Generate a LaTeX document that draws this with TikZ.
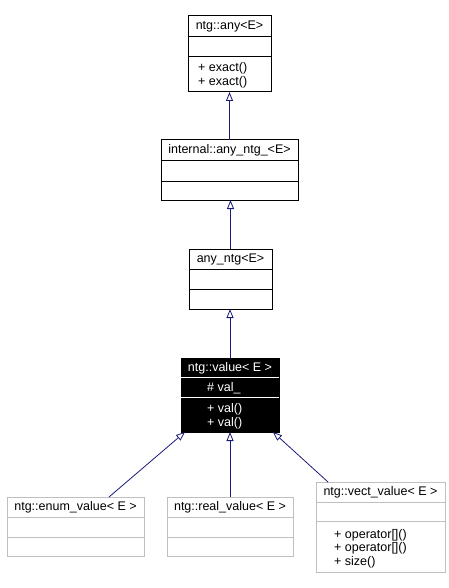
\documentclass[tikz,border=0pt]{standalone}
\usepackage{fontspec}
\setmainfont{Liberation Sans}
\usetikzlibrary{arrows.meta}
\definecolor{edgeblue}{HTML}{1A1A78}
\definecolor{boxgray}{HTML}{BFBFBF}
\tikzset{
  classbox/.style={draw=black, line width=1pt, inner sep=0pt, outer sep=0pt},
  grayclass/.style={classbox, draw=boxgray},
  txt/.style={inner sep=0pt, font=\fontsize{12.5}{14}\selectfont},
  member/.style={txt, anchor=west},
  inherit/.style={draw=edgeblue, line width=0.8pt,
    -{Triangle[open, length=9pt, width=7pt, line width=0.8pt]}}
}
\begin{document}
\begin{tikzpicture}[x=1pt, y=-1pt]
\useasboundingbox (0,0) rectangle (449,588);
% ntg::any<E>
\node[classbox, minimum width=83pt, minimum height=76pt] (any) at (229.5,54) {};
\draw[line width=1pt] (188,37) -- (271,37);
\draw[line width=1pt] (188,57) -- (271,57);
\node[txt] (anyT) at (229.5,26.5) {ntg::any<E>};
\node[member] (anyM1) at (198,68) {+ exact()};
\node[member] (anyM2) at (198,82) {+ exact()};
% internal::any_ntg_<E>
\node[classbox, minimum width=137pt, minimum height=60pt] (internal) at (229.5,170) {};
\draw[line width=1pt] (161,161) -- (298,161);
\draw[line width=1pt] (161,181) -- (298,181);
\node[txt] (internalT) at (229.5,150.5) {internal::any\_ntg\_<E>};
% any_ntg<E>
\node[classbox, minimum width=83pt, minimum height=60pt] (anyntg) at (230.5,279) {};
\draw[line width=1pt] (189,269) -- (272,269);
\draw[line width=1pt] (189,289) -- (272,289);
\node[txt] (anyntgT) at (230.5,259.5) {any\_ntg<E>};
% ntg::value< E >
\node[classbox, fill=black, minimum width=98pt, minimum height=74pt] (value) at (230,395) {};
\draw[white, line width=1pt] (181,377) -- (279,377);
\draw[white, line width=1pt] (181,397) -- (279,397);
\node[txt, text=white] (valueT) at (230,368) {ntg::value< E >};
\node[member, text=white] (valueA) at (207,388) {\# val\_};
\node[member, text=white] (valueM1) at (207,409) {+ val()};
\node[member, text=white] (valueM2) at (207,423) {+ val()};
% ntg::enum_value< E >
\node[grayclass, minimum width=137pt, minimum height=59pt] (enum) at (75.5,526.5) {};
\draw[boxgray, line width=1pt] (7,517) -- (144,517);
\draw[boxgray, line width=1pt] (7,537) -- (144,537);
\node[txt] (enumT) at (75.5,507) {ntg::enum\_value< E >};
% ntg::real_value< E >
\node[grayclass, minimum width=126pt, minimum height=59pt] (real) at (230,526.5) {};
\draw[boxgray, line width=1pt] (167,517) -- (293,517);
\draw[boxgray, line width=1pt] (167,537) -- (293,537);
\node[txt] (realT) at (230,507) {ntg::real\_value< E >};
% ntg::vect_value< E >
\node[grayclass, minimum width=129pt, minimum height=90pt] (vect) at (380.5,527) {};
\draw[boxgray, line width=1pt] (316,502) -- (445,502);
\draw[boxgray, line width=1pt] (316,521) -- (445,521);
\node[txt] (vectT) at (380.5,492.5) {ntg::vect\_value< E >};
\node[member] (vectM1) at (334,535) {+ operator[]()};
\node[member] (vectM2) at (334,548.5) {+ operator[]()};
\node[member] (vectM3) at (334,562) {+ size()};
% inheritance
\draw[inherit] (internal.north) -- (any.south);
\draw[inherit] (anyntg.north) -- (anyntg.north |- internal.south);
\draw[inherit] (value.north) -- (value.north |- anyntg.south);
\draw[inherit] ([xshift=33.5pt]enum.north) -- ([xshift=-45pt]value.south);
\draw[inherit] (real.north) -- (value.south);
\draw[inherit] ([xshift=-52.5pt]vect.north) -- ([xshift=43pt]value.south);
\end{tikzpicture}
\end{document}
